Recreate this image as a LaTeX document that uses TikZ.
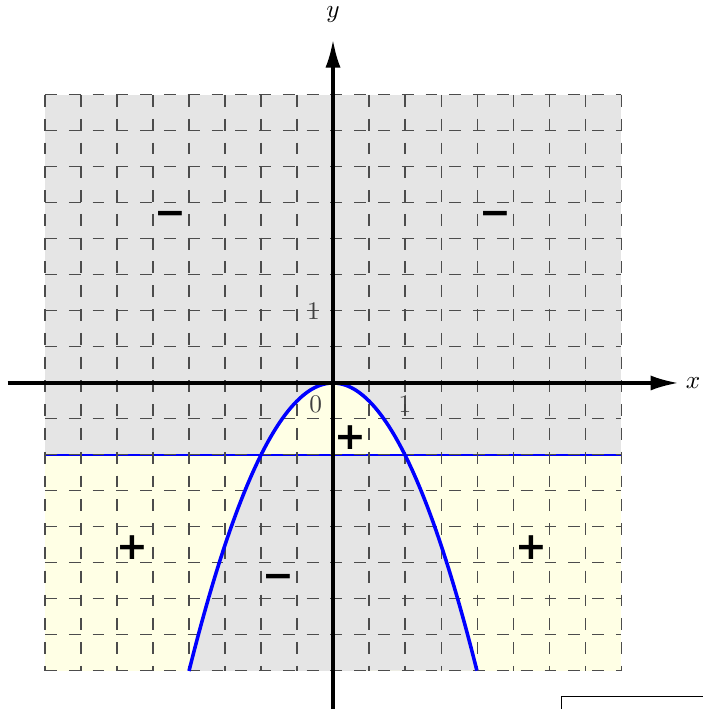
\documentclass[tikz,border=0pt]{standalone}
\usepackage{amsmath, amssymb}
\usepackage{fontspec}
\usepackage{xcolor}
\usepackage{tikz}
\usetikzlibrary{arrows.meta}
\newfontfamily\signfont{DejaVu Sans}
\definecolor{negblock}{gray}{0.90}
\definecolor{posblock}{RGB}{255, 255, 229}

\begin{document}
\begin{tikzpicture}
	\def\xr{4}
	\def\yr{4}

	\useasboundingbox (-4.625,-4.528) rectangle (5.125,5.319);

	% --- sign regions ---
	\fill[negblock] (-\xr, -1) rectangle (\xr, \yr);
	\fill[posblock] (-\xr, -\yr) rectangle (\xr, -1);
	\begin{scope}
		\clip plot[domain=-2:2, samples=100] (\x, {-(\x)^2}) -- cycle;
		\fill[posblock] (-\xr, -1) rectangle (\xr, \yr);
		\fill[negblock] (-\xr, -\yr) rectangle (\xr, -1);
	\end{scope}

	\draw[blue, line width=1.1pt] (-\xr, -1) -- (\xr, -1);

	% --- grid ---
	\foreach \i in {-8,...,8} {
		\draw[black!70, dash pattern=on 4.7pt off 4.7pt] (\i/2, \yr) -- (\i/2, -\yr);
		\draw[black!70, dash pattern=on 4.7pt off 4.7pt] (-\xr, \i/2) -- (\xr, \i/2);
	}

	% --- parabola ---
	\draw[blue, line width=1.4pt, domain=-2:2, samples=100] plot (\x, {-(\x)^2});

	% --- axes ---
	\draw[line width=1.3pt, -{Latex[length=3.9mm, width=2.1mm]}] (-4.52, 0) -- (4.8, 0);
	\draw[line width=1.3pt, -{Latex[length=3.9mm, width=2.1mm]}] (0, -4.6) -- (0, 4.77);
	\node (xlab) at (5.0, 0) {$x$};
	\node (ylab) at (0, 5.12) {$y$};

	\node[text=black!75] (zero) at (-0.24, -0.3) {$0$};
	\node[text=black!75] (onex) at (1, -0.3) {$1$};
	\node[text=black!75] (oney) at (-0.27, 1) {$1$};

	% --- signs ---
	\tikzset{sign/.style={font=\signfont\bfseries\fontsize{15}{15}\selectfont}}
	\node[sign] (mtl) at (-2.26, 2.29) {−};
	\node[sign] (mtr) at (2.25, 2.29) {−};
	\node[sign] (pmid) at (0.24, -0.76) {+};
	\node[sign] (pbl) at (-2.78, -2.28) {+};
	\node[sign] (pbr) at (2.76, -2.28) {+};
	\node[sign] (mbot) at (-0.76, -2.75) {−};

	% --- corner box ---
	\draw[black, thin] (3.18, -4.6) -- (3.18, -4.36) -- (5.3, -4.36);

\end{tikzpicture}
\end{document}
